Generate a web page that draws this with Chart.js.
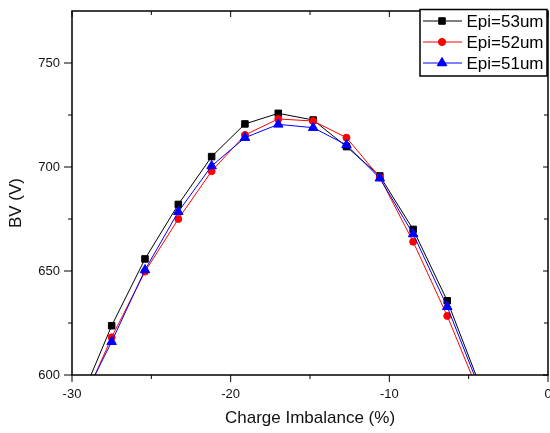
<!DOCTYPE html>
<html>
<head>
<meta charset="utf-8">
<script src="https://cdn.jsdelivr.net/npm/chart.js@4"></script>
<style>
  body { margin: 0; background: #fff; }
  #wrap { width: 550px; height: 433px; position: relative; }
</style>
</head>
<body>
<div id="wrap"><canvas id="bvChart"></canvas></div>
<script>
// Charge imbalance (%) - the outer points fall below 600 V and get clipped
const chargeImbalance = [-29.6, -27.5, -25.4, -23.3, -21.2, -19.1, -17.0, -14.8, -12.7, -10.6, -8.5, -6.35, -4.25];
const bvEpi53 = [585.5, 623.7, 655.8, 682, 705, 720.7, 725.8, 722.6, 709.8, 695.7, 670, 635.7, 594.2];
const bvEpi52 = [582, 618.1, 649.7, 675, 698, 715.4, 723.1, 722.1, 714.1, 695, 664.1, 628.4, 589.5];
const bvEpi51 = [584, 616, 650.5, 678.5, 700.5, 714.1, 720.5, 718.9, 710.6, 694.6, 667.8, 632.8, 592.3];
const seriesLabels = ['Epi=53um', 'Epi=52um', 'Epi=51um'];

const xTicks = [-30, -20, -10, 0];
const xMinorTicks = [-25, -15, -5];
const yTicks = [600, 650, 700, 750];
const yMinorTicks = [625, 675, 725];

const FONT = 'Liberation Sans, Arial, sans-serif';
const TEXT_COLOR = '#111';

function toPoints(values) {
    return chargeImbalance.map((x, i) => ({ x: x, y: values[i] }));
}

// frame, mirrored ticks, y title and legend box (Origin style)
const originFrame = {
    id: 'originFrame',
    afterDraw(chart) {
        const ctx = chart.ctx;
        const area = chart.chartArea;
        const xs = chart.scales.x;
        const ys = chart.scales.y;

        ctx.save();
        ctx.strokeStyle = '#000';
        ctx.lineWidth = 1.5;
        ctx.strokeRect(area.left, area.top, area.right - area.left, area.bottom - area.top);

        ctx.lineWidth = 1;
        ctx.beginPath();
        const tick = (list, len, inLen) => list.forEach(v => {
            const px = xs.getPixelForValue(v);
            ctx.moveTo(px, area.bottom); ctx.lineTo(px, area.bottom + len);
            ctx.moveTo(px, area.top); ctx.lineTo(px, area.top + inLen);
        });
        tick(xTicks, 7, 6);
        tick(xMinorTicks, 4, 4);
        const ytick = (list, len, inLen) => list.forEach(v => {
            const py = ys.getPixelForValue(v);
            ctx.moveTo(area.left, py); ctx.lineTo(area.left - len, py);
            ctx.moveTo(area.right, py); ctx.lineTo(area.right - inLen, py);
        });
        ytick(yTicks, 8, 5);
        ytick(yMinorTicks, 4, 4);
        ctx.stroke();

        // y axis title
        ctx.fillStyle = TEXT_COLOR;
        ctx.font = '17px ' + FONT;
        ctx.textAlign = 'center';
        ctx.textBaseline = 'middle';
        ctx.translate(16.5, 203);
        ctx.rotate(-Math.PI / 2);
        ctx.fillText('BV (V)', 0, 0);
        ctx.restore();

        // legend
        ctx.save();
        const box = { x: 420, y: 9.5, w: 127, h: 66.5 };
        ctx.fillStyle = '#fff';
        ctx.fillRect(box.x, box.y, box.w, box.h);
        ctx.strokeStyle = '#000';
        ctx.lineWidth = 1.5;
        ctx.strokeRect(box.x, box.y, box.w, box.h);
        chart.data.datasets.forEach((ds, i) => {
            const rowY = 21 + i * 21;
            ctx.strokeStyle = ds.borderColor;
            ctx.lineWidth = 1;
            ctx.beginPath();
            ctx.moveTo(423, rowY);
            ctx.lineTo(462, rowY);
            ctx.stroke();
            Chart.helpers.drawPoint(ctx, {
                pointStyle: ds.pointStyle,
                radius: ds.pointRadius,
                borderWidth: 1
            }, 442, rowY);
            ctx.fillStyle = ds.backgroundColor;
            ctx.fill();
            ctx.fillStyle = '#000';
            ctx.font = '17px ' + FONT;
            ctx.textAlign = 'left';
            ctx.textBaseline = 'middle';
            ctx.fillText(ds.label, 466.5, rowY + 1);
        });
        ctx.restore();
    }
};

function makeDataset(label, values, color, style, radius, order) {
    return {
        label: label,
        data: toPoints(values),
        borderColor: color,
        backgroundColor: color,
        borderWidth: 1,
        pointStyle: style,
        pointRadius: radius,
        pointBorderWidth: 1,
        pointHoverRadius: radius,
        tension: 0,
        clip: 0,
        order: order
    };
}

function renderChart() {
    const ctx = document.getElementById('bvChart').getContext('2d');
    new Chart(ctx, {
        type: 'line',
        data: {
            datasets: [
                makeDataset(seriesLabels[0], bvEpi53, '#000000', 'rect', 4.6, 2),
                makeDataset(seriesLabels[1], bvEpi52, '#ff0000', 'circle', 3.5, 1),
                makeDataset(seriesLabels[2], bvEpi51, '#0000ff', 'triangle', 5.5, 0)
            ]
        },
        options: {
            responsive: true,
            maintainAspectRatio: false,
            animation: false,
            layout: { autoPadding: false, padding: { top: 11, right: 2, left: 0, bottom: 0 } },
            plugins: {
                legend: { display: false },
                tooltip: { enabled: false }
            },
            scales: {
                x: {
                    type: 'linear',
                    min: -30,
                    max: 0,
                    afterBuildTicks: scale => { scale.ticks = xTicks.map(v => ({ value: v })); },
                    afterFit: scale => {
                        scale.height = 58;
                        scale.paddingLeft = 0;
                        scale.paddingRight = 0;
                    },
                    grid: { display: false, drawTicks: true, tickLength: 8 },
                    border: { display: false },
                    ticks: {
                        autoSkip: false,
                        maxRotation: 0,
                        padding: 4,
                        color: TEXT_COLOR,
                        font: { family: FONT, size: 13 }
                    },
                    title: {
                        display: true,
                        text: 'Charge Imbalance (%)',
                        color: TEXT_COLOR,
                        font: { family: FONT, size: 17 },
                        padding: { top: 0, bottom: 4 }
                    }
                },
                y: {
                    type: 'linear',
                    min: 600,
                    max: 775,
                    afterBuildTicks: scale => { scale.ticks = yTicks.map(v => ({ value: v })); },
                    afterFit: scale => {
                        scale.width = 72;
                        scale.paddingTop = 0;
                        scale.paddingBottom = 0;
                    },
                    grid: { display: false, drawTicks: true, tickLength: 8 },
                    border: { display: false },
                    ticks: {
                        autoSkip: false,
                        padding: 4,
                        color: TEXT_COLOR,
                        font: { family: FONT, size: 13 }
                    }
                }
            }
        },
        plugins: [originFrame]
    });
}

renderChart();
</script>
</body>
</html>
